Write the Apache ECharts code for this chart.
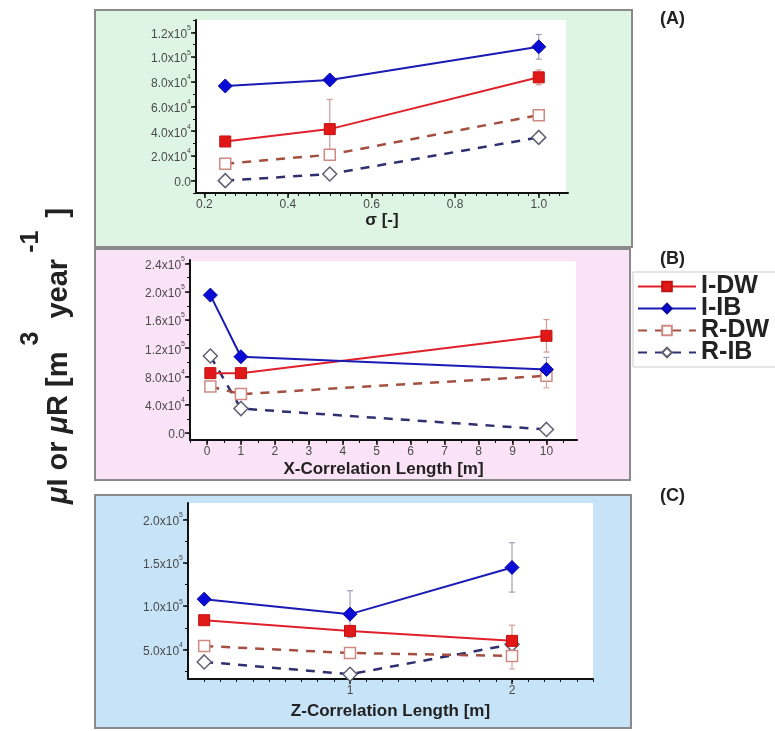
<!DOCTYPE html>
<html>
<head>
<meta charset="utf-8">
<script src="https://cdn.jsdelivr.net/npm/echarts@6/dist/echarts.min.js"></script>
<style>html,body{margin:0;padding:0;background:#fff}#c{width:775px;height:731px}</style>
</head>
<body>
<div id="c"></div>
<script>
// ---------- DATA ----------
// Panel A: sigma
var sigmaX = [0.25, 0.5, 1.0];
var A_IDW = [3.17e4, 4.17e4, 8.36e4];
var A_IIB = [7.66e4, 8.15e4, 1.083e5];
var A_RDW = [1.37e4, 2.1e4, 5.3e4];
var A_RIB = [0, 0.54e4, 3.5e4];
var A_errIDW = [0, 2.4e4, 0.6e4];
var A_errIIB = [0, 0, 1.0e4];
var A_errRDW = [0, 0, 0];
var A_errRIB = [0, 0, 0];
// Panel B: X-correlation length
var xcorrX = [0.1, 1, 10];
var B_IDW = [8.47e4, 8.47e4, 1.376e5];
var B_IIB = [1.953e5, 1.08e5, 9.0e4];
var B_RDW = [6.57e4, 5.5e4, 8.1e4];
var B_RIB = [1.09e5, 3.45e4, 0.5e4];
var B_errIDW = [0, 0, 2.3e4];
var B_errIIB = [0, 0, 1.7e4];
var B_errRDW = [0, 0, 1.7e4];
var B_errRIB = [0, 0, 0];
// Panel C: Z-correlation length
var zcorrX = [0.1, 1, 2];
var C_IDW = [8.38e4, 7.15e4, 6.0e4];
var C_IIB = [1.081e5, 9.08e4, 1.447e5];
var C_RDW = [5.4e4, 4.6e4, 4.26e4];
var C_RIB = [3.57e4, 2.15e4, 5.6e4];
var C_errIDW = [0, 0, 1.8e4];
var C_errIIB = [0, 2.7e4, 2.85e4];
var C_errRDW = [0, 0, 1.5e4];
var C_errRIB = [0, 0, 0];
// Tick labels
var A_xTicks = [0.2, 0.4, 0.6, 0.8, 1.0];
var A_yTicks = [0, 2e4, 4e4, 6e4, 8e4, 1.0e5, 1.2e5];
var B_xTicks = [0, 1, 2, 3, 4, 5, 6, 7, 8, 9, 10];
var B_yTicks = [0, 4e4, 8e4, 1.2e5, 1.6e5, 2.0e5, 2.4e5];
var C_xTicks = [1, 2];
var C_yTicks = [5e4, 1.0e5, 1.5e5, 2.0e5];
var seriesNames = ['I-DW', 'I-IB', 'R-DW', 'R-IB'];
var panelLabels = ['(A)', '(B)', '(C)'];
var xNames = ['\u03c3 [-]', 'X-Correlation Length [m]', 'Z-Correlation Length [m]'];

// ---------- helpers ----------
function range(a, b, step) { var out = []; var n = Math.round((b - a) / step); for (var i = 0; i <= n; i++) out.push(+(a + i * step).toFixed(6)); return out; }
function sciFmt(v) {
  if (v === 0) return '{m|0.0}';
  var e = Math.floor(Math.log10(v) + 1e-9);
  var m = (v / Math.pow(10, e)).toFixed(1);
  return '{m|' + m + 'x10}{s|' + e + '}';
}
var FONT = 'Liberation Sans, Arial, sans-serif';
var labelRich = {
  m: { fontSize: 12, color: '#4a4a4a', fontFamily: FONT, lineHeight: 16, verticalAlign: 'bottom' },
  s: { fontSize: 7, color: '#4a4a4a', fontFamily: FONT, lineHeight: 16, verticalAlign: 'top' }
};

var grids = [
  { left: 196, top: 20, width: 372, height: 173 },
  { left: 190, top: 260, width: 387, height: 180 },
  { left: 188, top: 503, width: 405, height: 176 }
];
var xr = [[0.18, 1.07], [-0.5, 10.9], [0, 2.5]];
var yr = [[-1e4, 1.3e5], [-1e4, 2.45e5], [1.6e4, 2.19e5]];
var xMaj = [A_xTicks, B_xTicks, C_xTicks];
var yMaj = [A_yTicks, B_yTicks, C_yTicks];
var xMin = [range(0.2, 1.05, 0.025), range(-0.5, 10.5, 0.5), range(0.1, 2.5, 0.1)];
var yMin = [range(-1e4, 1.3e5, 1e4), range(0, 2.4e5, 2e4), range(2.5e4, 2.0e5, 2.5e4)];
var xFmt = [function (v) { return v.toFixed(1); }, function (v) { return String(Math.round(v)); }, function (v) { return String(Math.round(v)); }];
var nameGaps = [15, 21, 24];

var xAxes = [], yAxes = [];
for (var g = 0; g < 3; g++) {
  xAxes.push({
    type: 'value', gridIndex: g, position: 'bottom', min: xr[g][0], max: xr[g][1], name: xNames[g], nameLocation: 'middle', nameGap: nameGaps[g],
    nameTextStyle: { fontSize: 17, fontWeight: 'bold', color: '#222', fontFamily: FONT },
    axisLine: { show: true, onZero: false, lineStyle: { color: '#111', width: 2 } },
    axisTick: { show: true, inside: false, length: 5, lineStyle: { color: '#111', width: 1.5 }, customValues: xMaj[g] },
    axisLabel: { show: true, customValues: xMaj[g], formatter: xFmt[g], fontSize: 12, color: '#4a4a4a', fontFamily: FONT, margin: 6 },
    splitLine: { show: false }
  });
  yAxes.push({
    type: 'value', gridIndex: g, position: 'left', min: yr[g][0], max: yr[g][1],
    axisLine: { show: true, onZero: false, lineStyle: { color: '#111', width: 2 } },
    axisTick: { show: true, length: 5, lineStyle: { color: '#111', width: 1.5 }, customValues: yMaj[g] },
    axisLabel: { show: true, customValues: yMaj[g], formatter: sciFmt, rich: labelRich, margin: 5 },
    splitLine: { show: false }
  });
}
for (var g2 = 0; g2 < 3; g2++) {
  xAxes.push({
    type: 'value', gridIndex: g2, position: 'bottom', offset: 0, min: xr[g2][0], max: xr[g2][1],
    axisLine: { show: false, onZero: false }, axisLabel: { show: false, customValues: [] },
    axisTick: { show: true, length: 3, lineStyle: { color: '#111', width: 1 }, customValues: xMin[g2] },
    splitLine: { show: false }
  });
  yAxes.push({
    type: 'value', gridIndex: g2, position: 'left', offset: 0, min: yr[g2][0], max: yr[g2][1],
    axisLine: { show: false, onZero: false }, axisLabel: { show: false, customValues: [] },
    axisTick: { show: true, length: 3, lineStyle: { color: '#111', width: 1 }, customValues: yMin[g2] },
    splitLine: { show: false }
  });
}

var styles = {
  'I-DW': { line: '#e0202a', type: 'solid', symbol: 'rect', size: 11, fill: '#e01818', border: '#c01010', bw: 1, err: '#d49a9a' },
  'I-IB': { line: '#1a1ab4', type: 'solid', symbol: 'diamond', size: 14, fill: '#0b0bd6', border: '#0a0aa0', bw: 1, err: '#a0a0b8' },
  'R-DW': { line: '#a45040', type: [9, 8], symbol: 'rect', size: 11, fill: '#ffffff', border: '#d08a84', bw: 1.5, err: '#d8a8a8' },
  'R-IB': { line: '#303070', type: [9, 8], symbol: 'diamond', size: 14, fill: '#ffffff', border: '#606070', bw: 1.5, err: '#a8a8b8' }
};
var panelData = [
  { x: sigmaX, v: { 'I-DW': A_IDW, 'I-IB': A_IIB, 'R-DW': A_RDW, 'R-IB': A_RIB }, e: { 'I-DW': A_errIDW, 'I-IB': A_errIIB, 'R-DW': A_errRDW, 'R-IB': A_errRIB } },
  { x: xcorrX, v: { 'I-DW': B_IDW, 'I-IB': B_IIB, 'R-DW': B_RDW, 'R-IB': B_RIB }, e: { 'I-DW': B_errIDW, 'I-IB': B_errIIB, 'R-DW': B_errRDW, 'R-IB': B_errRIB } },
  { x: zcorrX, v: { 'I-DW': C_IDW, 'I-IB': C_IIB, 'R-DW': C_RDW, 'R-IB': C_RIB }, e: { 'I-DW': C_errIDW, 'I-IB': C_errIIB, 'R-DW': C_errRDW, 'R-IB': C_errRIB } }
];
var drawOrder = ['R-IB', 'R-DW', 'I-DW', 'I-IB'];
var series = [];
panelData.forEach(function (p, gi) {
  drawOrder.forEach(function (name, k) {
    var st = styles[name];
    var errData = [];
    p.x.forEach(function (xv, i) { if (p.e[name][i] > 0) errData.push([xv, p.v[name][i], p.e[name][i]]); });
    series.push({
      type: 'custom', xAxisIndex: gi, yAxisIndex: gi, z: 1, silent: true, data: errData,
      renderItem: (function (col) {
        return function (params, api) {
          var x = api.value(0), c = api.value(1), d = api.value(2);
          var top = api.coord([x, c + d]), bot = api.coord([x, c - d]);
          var w = 3;
          return { type: 'group', children: [
            { type: 'line', shape: { x1: top[0], y1: top[1], x2: bot[0], y2: bot[1] }, style: { stroke: col, lineWidth: 1.2 } },
            { type: 'line', shape: { x1: top[0] - w, y1: top[1], x2: top[0] + w, y2: top[1] }, style: { stroke: col, lineWidth: 1.2 } },
            { type: 'line', shape: { x1: bot[0] - w, y1: bot[1], x2: bot[0] + w, y2: bot[1] }, style: { stroke: col, lineWidth: 1.2 } }
          ] };
        };
      })(st.err)
    });
    series.push({
      name: name, type: 'line', xAxisIndex: gi, yAxisIndex: gi, z: 2 + k,
      data: p.x.map(function (xv, i) { return [xv, p.v[name][i]]; }),
      symbol: st.symbol, symbolSize: st.size, showSymbol: true, animation: false,
      lineStyle: { color: st.line, width: st.type === 'solid' ? 2 : 2.5, type: st.type },
      itemStyle: { color: st.fill, borderColor: st.border, borderWidth: st.bw, opacity: 1 },
      emphasis: { disabled: true }
    });
  });
});

var panels = [
  { x: 95, y: 10, w: 537, h: 237, fill: '#ddf5e2' },
  { x: 95, y: 249, w: 535, h: 231, fill: '#fbe3f7' },
  { x: 95, y: 495, w: 536, h: 233, fill: '#c6e3f8' }
];
var whites = [
  { x: 196, y: 20, w: 370, h: 173 },
  { x: 190, y: 261, w: 386, h: 179 },
  { x: 188, y: 503, w: 405, h: 176 }
];
var graphics = [];
panels.forEach(function (p) {
  graphics.push({ type: 'rect', z: -10, silent: true, shape: { x: p.x, y: p.y, width: p.w, height: p.h }, style: { fill: p.fill, stroke: '#8a8a8a', lineWidth: 2 } });
});
whites.forEach(function (p) {
  graphics.push({ type: 'rect', z: -9, silent: true, shape: { x: p.x, y: p.y, width: p.w, height: p.h }, style: { fill: '#ffffff' } });
});
var labelY = [10, 250, 487];
panelLabels.forEach(function (t, i) {
  graphics.push({ type: 'text', x: 660, y: labelY[i], style: { text: t, fontSize: 18, fontWeight: 'bold', fill: '#222', fontFamily: FONT } });
});
graphics.push({
  type: 'text', x: 46, y: 356, rotation: Math.PI / 2,
  style: {
    text: '{it|\u03bc}{n|I or }{it|\u03bc}{n|R [m}{sup|3}{n| year}{sup|-1}{n| ]}',
    align: 'center', verticalAlign: 'middle',
    rich: {
      n: { fontSize: 29, fontWeight: 'bold', fill: '#222', fontFamily: FONT, lineHeight: 54, verticalAlign: 'bottom' },
      it: { fontSize: 29, fontStyle: 'italic', fontWeight: 'bold', fill: '#222', fontFamily: FONT, lineHeight: 54, verticalAlign: 'bottom' },
      sup: { fontSize: 25, fontWeight: 'bold', fill: '#222', fontFamily: FONT, lineHeight: 54, verticalAlign: 'top', padding: [0, 5, 0, 6] }
    }
  }
});

var chart = echarts.init(document.getElementById('c'), null, { renderer: 'canvas' });
chart.setOption({
  animation: false,
  backgroundColor: '#ffffff',
  grid: grids,
  xAxis: xAxes,
  yAxis: yAxes,
  legend: {
    data: seriesNames, orient: 'vertical', left: 633, top: 272,
    itemWidth: 58, itemHeight: 12, itemGap: -3,
    padding: [2, 20, 2, 4],
    backgroundColor: '#ffffff', borderColor: '#cccccc', borderWidth: 1,
    textStyle: { fontSize: 25, fontWeight: 'bold', color: '#222', fontFamily: FONT, lineHeight: 22 },
    selectedMode: false
  },
  graphic: graphics,
  series: series
});
</script>
</body>
</html>
